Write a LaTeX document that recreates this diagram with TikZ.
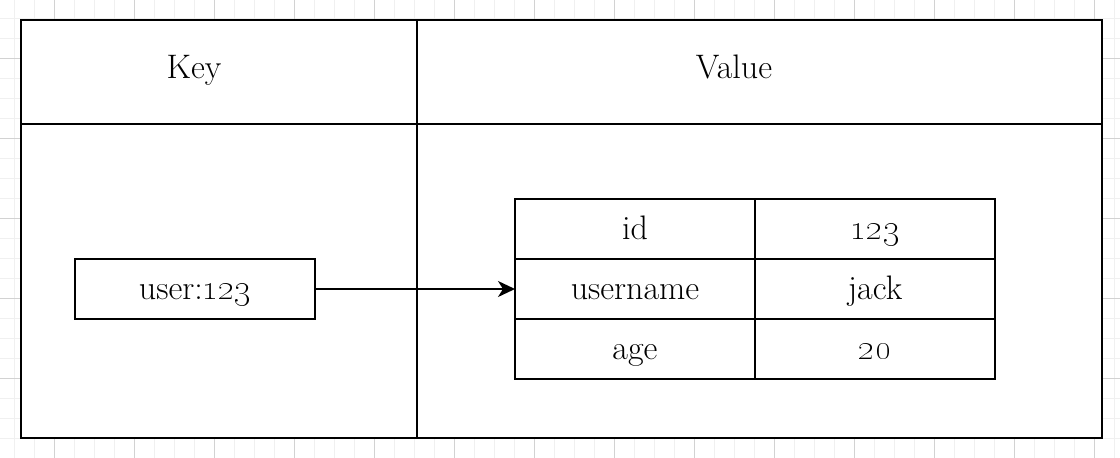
\documentclass[tikz,border=0pt]{standalone}
\usepackage{tikz}
\usetikzlibrary{arrows.meta,positioning}

\definecolor{gridminor}{HTML}{F0F0F0}
\definecolor{gridmajor}{HTML}{D2D2D2}

\begin{document}
\begin{tikzpicture}[x=1pt, y=-1pt, >={Stealth[length=17pt,width=16pt,inset=5pt]},
    node distance=0pt,
    txt/.style={font=\fontsize{34}{40}\selectfont, inner sep=0pt, outer sep=0pt},
    cell/.style={txt, draw, line width=1.8pt, minimum width=240pt, minimum height=60pt,
                 text height=25pt, text depth=5pt}]
    \useasboundingbox (0,0) rectangle (1120,458);

    % Background grid
    \foreach \gx in {14,34,...,1114} \draw [gridminor, line width=1pt] (\gx,0) -- (\gx,458);
    \foreach \gy in {18,38,...,458}  \draw [gridminor, line width=1pt] (0,\gy) -- (1120,\gy);
    \foreach \gx in {54,134,...,1094} \draw [gridmajor, line width=1pt] (\gx,0) -- (\gx,458);
    \foreach \gy in {58,138,...,458}  \draw [gridmajor, line width=1pt] (0,\gy) -- (1120,\gy);

    % Frame {key column, value column}
    \filldraw [fill=white, line width=2pt] (21,20) rectangle (1102,438);
    \draw [line width=2pt] (417,20) -- (417,438);
    \draw [line width=2pt] (21,124) -- (1102,124);

    % Headers
    \node [txt, anchor=base] (keylabel)   at (194,78) {Key};
    \node [txt, anchor=base] (valuelabel) at (734,78) {Value};

    % Key
    \node [cell] (user) at (195,289) {user:\oldstylenums{123}};

    % Hash fields
    \node [cell]                      (id)       at (635,229) {id};
    \node [cell] [right=of id]        (idval)                 {\oldstylenums{123}};
    \node [cell] [below=of id]        (username)              {username};
    \node [cell] [right=of username]  (nameval)               {jack};
    \node [cell] [below=of username]  (age)                   {age};
    \node [cell] [right=of age]       (ageval)                {\oldstylenums{20}};

    % Paths
    \draw [->, line width=1.8pt] (user) -- (username);
\end{tikzpicture}
\end{document}
